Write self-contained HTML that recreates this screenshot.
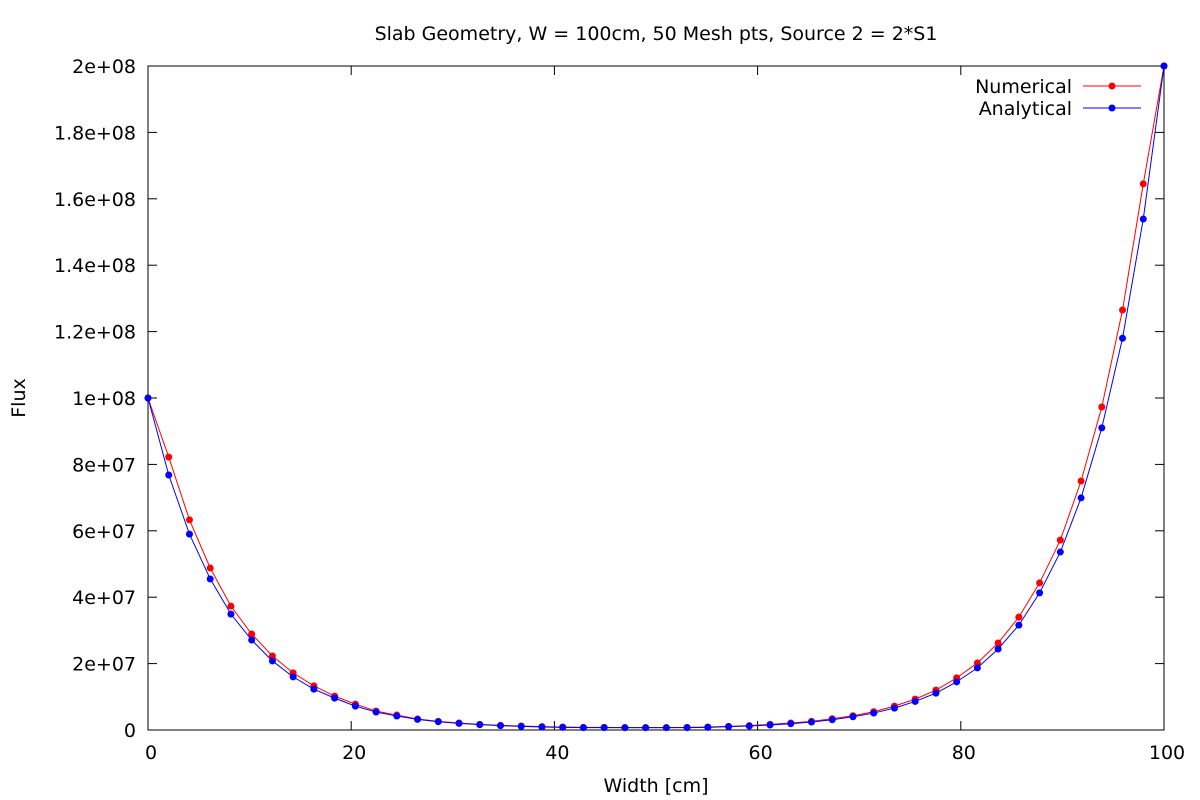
<!DOCTYPE html>
<html><head><meta charset="utf-8">
<style>
html,body{margin:0;padding:0;background:#fff;}
svg{display:block;font-family:"DejaVu Sans","Liberation Sans",sans-serif;}
</style></head>
<body>
<svg id="chart" width="1200" height="800"></svg>
<script>
const meshCount = 50;
const xMin = 0, xMax = 100;
const yTicks = [0,2e7,4e7,6e7,8e7,1e8,1.2e8,1.4e8,1.6e8,1.8e8,2e8];
const yTickLabels = ["0","2e+07","4e+07","6e+07","8e+07","1e+08","1.2e+08","1.4e+08","1.6e+08","1.8e+08","2e+08"];
const xTicks = [0,20,40,60,80,100];
const xTickLabels = ["0","20","40","60","80","100"];
// values in units of 1e7
const numerical = [10,8.22,6.33,4.88,3.73,2.89,2.23,1.72,1.33,1.02,0.78,0.57,0.45,0.33,0.26,0.21,0.17,0.14,0.12,0.10,0.09,0.08,0.08,0.07,0.07,0.07,0.08,0.09,0.11,0.13,0.17,0.21,0.26,0.34,0.43,0.55,0.72,0.93,1.20,1.57,2.02,2.62,3.40,4.43,5.72,7.50,9.73,12.65,16.45,20];
const analytical = [10,7.68,5.90,4.55,3.49,2.71,2.08,1.60,1.23,0.96,0.72,0.54,0.42,0.32,0.25,0.20,0.16,0.13,0.11,0.09,0.08,0.07,0.07,0.07,0.07,0.07,0.07,0.08,0.10,0.12,0.15,0.19,0.24,0.31,0.40,0.51,0.66,0.86,1.11,1.45,1.87,2.44,3.16,4.13,5.36,6.99,9.10,11.80,15.39,20];

const L=148,R=1164,T=66,B=730;
const sx=v=>L+(v-xMin)/(xMax-xMin)*(R-L);
const sy=v=>B-v/2e8*(B-T);
const NS="http://www.w3.org/2000/svg";
const svg=document.getElementById('chart');
function mk(tag,attrs,parent){const e=document.createElementNS(NS,tag);for(const k in attrs)e.setAttribute(k,attrs[k]);(parent||svg).appendChild(e);return e;}

const frame=mk('rect',{x:L,y:T,width:R-L,height:B-T,fill:'none',stroke:'#000','stroke-width':1});



yTicks.forEach((v,i)=>{
  const y=sy(v);
  const t1=mk('line',{x1:L,x2:L+9,y1:y,y2:y,stroke:'#000'});
  
  
  const t2=mk('line',{x1:R-9,x2:R,y1:y,y2:y,stroke:'#000'});
  
  
  const lb=mk('text',{x:L-12,y:y+7,'text-anchor':'end','font-size':19});
  lb.textContent=yTickLabels[i];
  
  
});
xTicks.forEach((v,i)=>{
  const x=sx(v);
  const t1=mk('line',{x1:x,x2:x,y1:B,y2:B-9,stroke:'#000'});
  
  
  const t2=mk('line',{x1:x,x2:x,y1:T,y2:T+9,stroke:'#000'});
  
  
  const lb=mk('text',{x:x+3,y:B+29,'text-anchor':'middle','font-size':19});
  lb.textContent=xTickLabels[i];
  
  
});

const title=mk('text',{x:656,y:40,'text-anchor':'middle','font-size':19});
title.textContent='Slab Geometry, W = 100cm, 50 Mesh pts, Source 2 = 2*S1';


const xt=mk('text',{x:656,y:792,'text-anchor':'middle','font-size':19});
xt.textContent='Width [cm]';


const yt=mk('text',{x:25,y:398,'text-anchor':'middle','font-size':19,transform:'rotate(-90 25 398)'});
yt.textContent='Flux';



function series(vals,color,name){
  const g=mk('g',{});
  
  
  const pts=vals.map((v,i)=>[sx(xMin+i*(xMax-xMin)/(meshCount-1)),sy(v*1e7)]);
  const pl=mk('polyline',{points:pts.map(p=>p.join(',')).join(' '),fill:'none',stroke:color,'stroke-width':1},g);
  
  
  pts.forEach(p=>{
    const c=mk('circle',{cx:p[0],cy:p[1],r:3.5,fill:color},g);
    
    
  });
}
series(numerical,'#ff0000','numerical');
series(analytical,'#0000ff','analytical');

[['Numerical','#ff0000',86,'numerical'],['Analytical','#0000ff',108,'analytical']].forEach(([lab,col,y,n])=>{
  const t=mk('text',{x:1072,y:y+7,'text-anchor':'end','font-size':19});
  t.textContent=lab;
  
  
  const l=mk('line',{x1:1083,x2:1141,y1:y,y2:y,stroke:col});
  
  
  const c=mk('circle',{cx:1112,cy:y,r:3.5,fill:col});
  
  
});
</script>
</body></html>
